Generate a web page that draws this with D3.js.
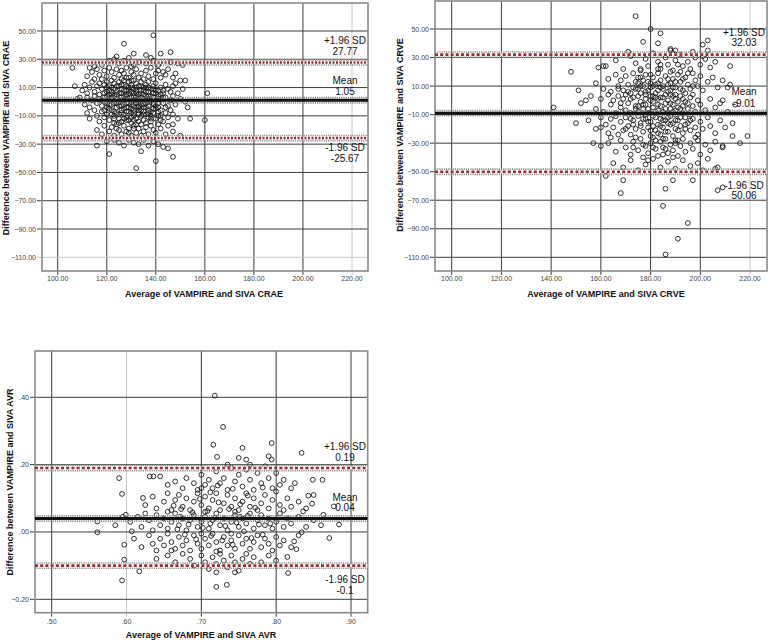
<!DOCTYPE html>
<html><head><meta charset="utf-8">
<script src="https://cdn.jsdelivr.net/npm/d3@7"></script>
<style>body{margin:0;background:#fff}svg{display:block;font-family:"Liberation Sans",Arial,sans-serif}</style>
</head><body><svg id="c" width="768" height="640"></svg>
<script>
// ---------- DATA ----------
const craeXTicks = [100,120,140,160,180,200,220];
const craeYTicks = [50,30,10,-10,-30,-50,-70,-90,-110];
const craeLines = [27.77, 1.05, -25.67];
const craeLineLabels = [["+1.96 SD","27.77"],["Mean","1.05"],["-1.96 SD","-25.67"]];
const craePoints = [
[118,26],[121,29],[123,30],[125,27],[127,29],[129,31],[131,26],[133,28],[136,27],[139,29],[141,26],[138,31],[115,25],[146,28],[149,27],
[112,18],[114,21],[115,16],[116,23],[117,19],[118,16],[119,22],[120,18],[121,24],[122,15],[122,21],[123,17],[124,23],[125,19],[126,16],[126,22],[127,20],[128,24],[129,17],[130,21],[131,15],[131,19],[132,23],[133,17],[134,20],[135,16],[136,22],[137,18],[138,24],[139,16],[140,20],[141,22],[142,17],[143,21],[144,19],[145,23],[147,17],[148,20],[113,24],[150,15],
[110,8],[111,12],[112,6],[113,10],[114,14],[115,7],[116,11],[117,5],[117,13],[118,9],[119,6],[119,12],[120,14],[121,8],[121,11],[122,5],[123,9],[123,13],[124,7],[125,11],[125,14],[126,6],[126,9],[127,12],[128,8],[128,5],[129,10],[129,14],[130,7],[130,12],[131,9],[132,6],[132,13],[133,11],[134,8],[134,14],[135,5],[135,10],[136,12],[137,7],[137,14],[138,9],[139,11],[139,6],[140,13],[141,8],[142,10],[143,6],[144,12],[145,9],[146,7],[147,11],[148,13],[149,6],[151,9],
[108,2],[111,-2],[112,3],[113,-4],[114,1],[115,4],[116,-1],[117,2],[118,-3],[119,0],[120,4],[120,-4],[121,1],[122,-2],[122,3],[123,-1],[124,2],[124,-4],[125,0],[126,3],[126,-3],[127,1],[127,-2],[128,4],[128,-1],[129,2],[129,-4],[130,0],[130,3],[131,-3],[131,1],[132,4],[132,-1],[133,2],[133,-4],[134,0],[134,3],[135,-2],[136,1],[136,4],[137,-3],[137,2],[138,0],[139,3],[139,-2],[140,1],[141,-4],[141,4],[142,2],[143,-1],[144,3],[145,-3],[146,1],[147,4],[148,-2],[150,2],[152,0],
[112,-8],[113,-12],[115,-6],[116,-10],[117,-14],[118,-7],[119,-11],[120,-9],[121,-13],[122,-6],[123,-10],[123,-15],[124,-8],[125,-12],[126,-6],[126,-14],[127,-9],[128,-11],[128,-7],[129,-13],[130,-8],[130,-15],[131,-10],[131,-6],[132,-12],[133,-8],[133,-14],[134,-10],[135,-7],[135,-13],[136,-9],[137,-11],[137,-6],[138,-14],[139,-8],[140,-12],[141,-7],[142,-10],[143,-14],[144,-8],[145,-11],[146,-6],[147,-9],[149,-12],[153,-4],
[116,-20],[118,-23],[119,-17],[121,-21],[122,-18],[123,-24],[124,-16],[125,-20],[126,-23],[127,-17],[128,-21],[129,-19],[130,-24],[131,-17],[132,-22],[133,-19],[134,-16],[134,-24],[135,-21],[136,-18],[137,-23],[138,-17],[139,-20],[140,-22],[141,-16],[142,-19],[144,-23],[145,-17],[147,-21],[147,-16],[150,-24],
[120,-28],[123,-27],[125,-29],[127,-31],[129,-27],[131,-29],[133,-30],[135,-27],[137,-31],[139,-28],[141,-30],[143,-32],[145,-33],[134,-35],
[139,47],[127,41],[131,34],[146,35],[142,34],[136,33],[124,32],[106,24],[107,11],[109,3],[161,6],[160,-13],[154,-12],[152,15],[151,26],[116,-31],[121,-37],[132,-47],[140,-42],[147,-39],
[119,3],[120,7],[121,-5],[122,10],[123,-7],[124,5],[125,-9],[126,1],[127,8],[127,-5],[128,2],[129,-7],[129,6],[130,-2],[130,10],[131,4],[131,-8],[132,1],[132,8],[133,-6],[133,5],[134,-2],[134,11],[135,2],[135,-9],[136,7],[136,-4],[137,0],[137,10],[138,-7],[138,4],[139,-1],[139,9],[140,-5],[140,6],[141,2],[141,-10],[142,5],[120,-1],[121,5],[122,-9],[124,11],[125,-3],[126,12],[128,-13],[130,-11],[132,-16],[133,-3],[134,6],[136,-15],[138,-10],[140,-3],[142,-6],[143,3],[131,-19],[129,-22],[127,-12],[124,-19],[128,17],[130,25],
[118,1],[119,-6],[120,10],[121,-2],[122,7],[123,-12],[123,4],[124,-1],[125,6],[125,-15],[126,-8],[127,4],[127,15],[128,-4],[128,11],[129,-1],[129,8],[130,-5],[130,15],[131,6],[131,-13],[132,-4],[132,10],[133,0],[133,-9],[134,-6],[135,8],[135,-4],[136,-1],[136,10],[137,4],[137,-8],[138,1],[138,-12],[139,-5],[140,8],[141,-1],[142,-13],[143,8],[144,-4]
];

const crveXTicks = [100,120,140,160,180,200,220];
const crveYTicks = [50,30,10,-10,-30,-50,-70,-90,-110];
const crveLines = [32.03, -9.01, -50.06];
const crveLineLabels = [["+1.96 SD","32.03"],["Mean","-9.01"],["-1.96 SD","50.06"]];
const crvePoints = [
[162,24],[166,28],[169,22],[172,31],[174,26],[176,21],[178,29],[179,24],[181,33],[183,27],[184,22],[186,30],[187,25],[189,21],[190,28],[192,32],[193,24],[195,27],[196,22],[198,30],[200,25],[202,29],[204,23],[206,27],[171,34],[188,35],[197,34],
[158,12],[161,8],[163,15],[164,6],[166,18],[167,10],[168,14],[169,7],[170,17],[171,11],[172,5],[173,19],[174,13],[175,8],[176,16],[177,10],[178,18],[178,6],[179,13],[180,9],[181,16],[182,11],[183,19],[183,7],[184,14],[185,10],[186,17],[187,6],[188,12],[189,15],[190,9],[191,18],[192,13],[193,7],[194,16],[195,11],[196,8],[197,19],[198,14],[199,10],[200,17],[201,7],[203,13],[205,16],[207,9],[209,14],[212,11],
[152,-2],[156,3],[158,-6],[160,1],[161,-8],[163,4],[164,-3],[165,0],[166,-9],[167,3],[168,-5],[169,1],[170,-7],[170,4],[171,-2],[172,-9],[173,2],[174,-4],[175,-8],[175,3],[176,-1],[177,-6],[178,4],[178,-3],[179,-9],[180,0],[181,-5],[181,3],[182,-8],[183,1],[184,-4],[184,-10],[185,2],[186,-6],[187,0],[187,-9],[188,4],[189,-3],[190,-7],[190,1],[191,-5],[192,3],[193,-9],[194,-1],[195,-6],[196,2],[197,-4],[198,-8],[199,0],[200,-3],[202,-7],[204,1],[206,-5],[208,-2],[211,-8],[214,-3],
[155,-14],[158,-20],[160,-12],[162,-17],[163,-23],[164,-13],[165,-19],[166,-11],[167,-24],[168,-15],[169,-21],[170,-12],[171,-18],[172,-24],[173,-14],[174,-20],[175,-11],[176,-16],[177,-22],[178,-13],[179,-19],[180,-25],[180,-15],[181,-11],[182,-21],[183,-17],[184,-13],[184,-24],[185,-19],[186,-14],[187,-22],[188,-11],[188,-17],[189,-25],[190,-20],[191,-14],[192,-18],[193,-23],[194,-12],[195,-16],[196,-21],[197,-13],[198,-19],[199,-24],[200,-15],[201,-20],[203,-12],[204,-18],[206,-23],[208,-14],[210,-19],[213,-16],
[163,-30],[166,-36],[168,-28],[170,-33],[172,-38],[173,-29],[175,-35],[176,-27],[177,-31],[179,-37],[180,-30],[181,-26],[182,-34],[183,-39],[184,-29],[185,-33],[186,-27],[187,-37],[188,-31],[189,-35],[190,-28],[191,-39],[192,-32],[193,-27],[194,-36],[196,-30],[197,-34],[199,-28],[200,-38],[202,-31],[204,-35],[206,-29],[209,-33],
[165,-44],[169,-47],[172,-42],[175,-49],[178,-45],[181,-41],[184,-47],[187,-43],[190,-48],[193,-42],[196,-46],[199,-44],[203,-41],[206,-48],[201,-49],
[174,59],[180,50],[184,47],[177,41],[183,40],[201,39],[203,42],[212,24],[216,-30],[219,-25],[209,-32],[213,-25],[211,9],[209,0],[148,20],[151,7],[154,0],[141,-5],[150,-16],[159,23],[161,24],[157,-30],[160,-32],[160,-19],[164,-26],[168,-65],[186,-62],[185,-74],[195,-86],[191,-97],[186,-108],[169,-56],[162,-53],[197,-56],[189,-56],[207,-47],[209,-61],[207,-63],[188,36],[190,35],[189,33],[203,35],[201,31],
[171,6],[172,-13],[173,9],[174,-6],[175,12],[176,-18],[176,5],[177,-3],[177,14],[178,-10],[179,7],[179,-15],[180,3],[180,-21],[181,10],[181,-1],[182,-12],[182,5],[183,-7],[183,12],[184,-18],[184,2],[185,-14],[185,8],[186,-2],[186,-22],[187,11],[187,-12],[188,-6],[188,7],[189,-16],[189,3],[190,-10],[190,13],[191,-1],[191,-21],[192,8],[192,-12],[193,-4],[193,15],[194,-17],[194,5],[174,-26],[178,-32],[182,-28],[186,-34],[190,-30],[176,22],[180,18],[184,25],[188,20],[170,-20],[168,-2],[167,8],[196,-10],[197,4],[198,-26],[195,19],[185,-38],[179,-42],
[172,1],[173,-17],[174,8],[175,-4],[176,10],[177,-13],[178,1],[179,-6],[180,12],[180,-9],[181,-18],[182,2],[183,-3],[183,-23],[184,9],[185,-8],[185,-27],[186,4],[187,-16],[187,15],[188,-2],[189,-8],[189,9],[190,-14],[190,4],[191,-28],[192,-6],[192,20],[193,1],[194,-20],[195,-2],[196,-14],[197,10],[173,-33],[177,-40],[181,-33],[189,-40],[175,16],[183,22],[191,25]
];

const avrXTicks = [0.5,0.6,0.7,0.8,0.9];
const avrYTicks = [0.4,0.2,0.0,-0.2];
const avrLines = [0.19, 0.04, -0.1];
const avrLineLabels = [["+1.96 SD","0.19"],["Mean","0.04"],["-1.96 SD","-0.1"]];
const avrPoints = [
[0.645,0.165],[0.655,0.14],[0.665,0.15],[0.675,0.13],[0.68,0.16],[0.69,0.145],[0.695,0.125],[0.70,0.17],[0.705,0.14],[0.71,0.155],[0.715,0.13],[0.72,0.18],[0.725,0.145],[0.73,0.16],[0.735,0.125],[0.74,0.19],[0.745,0.15],[0.75,0.17],[0.755,0.135],[0.76,0.185],[0.765,0.155],[0.77,0.125],[0.775,0.175],[0.78,0.145],[0.785,0.195],[0.79,0.16],[0.795,0.13],[0.80,0.175],[0.805,0.14],[0.81,0.155],[0.82,0.13],[0.825,0.145],[0.735,0.20],[0.765,0.20],[0.70,0.13],
[0.625,0.08],[0.635,0.105],[0.64,0.07],[0.65,0.09],[0.655,0.115],[0.66,0.065],[0.665,0.095],[0.67,0.11],[0.675,0.075],[0.68,0.10],[0.685,0.065],[0.69,0.09],[0.695,0.115],[0.70,0.08],[0.705,0.105],[0.71,0.07],[0.715,0.095],[0.72,0.115],[0.725,0.065],[0.73,0.085],[0.735,0.11],[0.74,0.075],[0.745,0.10],[0.75,0.065],[0.755,0.09],[0.76,0.115],[0.765,0.075],[0.77,0.10],[0.775,0.065],[0.78,0.085],[0.785,0.11],[0.79,0.07],[0.795,0.095],[0.80,0.12],[0.805,0.08],[0.81,0.065],[0.815,0.10],[0.82,0.075],[0.83,0.09],[0.84,0.07],[0.85,0.11],[0.655,0.06],[0.705,0.06],[0.745,0.06],
[0.605,0.03],[0.615,0.045],[0.62,0.015],[0.63,0.035],[0.635,0.005],[0.64,0.05],[0.645,0.02],[0.65,0.04],[0.655,0.01],[0.66,0.03],[0.665,0.055],[0.67,0.02],[0.675,0.04],[0.68,0.005],[0.685,0.035],[0.69,0.05],[0.695,0.015],[0.70,0.03],[0.705,0.045],[0.71,0.01],[0.715,0.035],[0.72,0.055],[0.725,0.02],[0.73,0.04],[0.735,0.005],[0.74,0.03],[0.745,0.05],[0.75,0.015],[0.755,0.04],[0.76,0.025],[0.765,0.055],[0.77,0.01],[0.775,0.035],[0.78,0.05],[0.785,0.02],[0.79,0.04],[0.795,0.01],[0.80,0.03],[0.805,0.055],[0.81,0.015],[0.815,0.04],[0.82,0.025],[0.83,0.045],[0.84,0.015],[0.85,0.035],[0.86,0.02],[0.585,0.02],[0.595,0.045],[0.625,0.055],[0.672,0.045],[0.712,0.025],[0.752,0.045],[0.792,0.025],
[0.61,-0.02],[0.62,-0.045],[0.63,-0.01],[0.635,-0.035],[0.64,-0.055],[0.645,-0.02],[0.65,-0.04],[0.655,-0.005],[0.66,-0.03],[0.665,-0.05],[0.67,-0.015],[0.675,-0.04],[0.68,-0.025],[0.685,-0.055],[0.69,-0.01],[0.695,-0.035],[0.70,-0.05],[0.705,-0.02],[0.71,-0.04],[0.715,-0.005],[0.72,-0.03],[0.725,-0.055],[0.73,-0.015],[0.735,-0.04],[0.74,-0.025],[0.745,-0.05],[0.75,-0.01],[0.755,-0.035],[0.76,-0.02],[0.765,-0.05],[0.77,-0.03],[0.775,-0.01],[0.78,-0.045],[0.785,-0.02],[0.79,-0.035],[0.795,-0.055],[0.80,-0.015],[0.805,-0.04],[0.81,-0.025],[0.82,-0.045],[0.83,-0.01],[0.70,-0.005],[0.74,-0.005],[0.66,-0.055],[0.72,-0.058],
[0.64,-0.08],[0.655,-0.07],[0.665,-0.09],[0.675,-0.065],[0.685,-0.08],[0.69,-0.10],[0.70,-0.07],[0.705,-0.09],[0.71,-0.11],[0.715,-0.075],[0.72,-0.095],[0.725,-0.065],[0.73,-0.085],[0.735,-0.105],[0.74,-0.07],[0.745,-0.09],[0.75,-0.115],[0.755,-0.08],[0.76,-0.065],[0.765,-0.095],[0.77,-0.075],[0.78,-0.09],[0.79,-0.07],[0.80,-0.085],[0.745,-0.12],[0.72,-0.12],
[0.718,0.405],[0.729,0.312],[0.716,0.259],[0.721,0.223],[0.590,0.160],[0.594,0.113],[0.561,0.031],[0.561,-0.001],[0.597,-0.038],[0.597,-0.082],[0.594,-0.144],[0.617,-0.117],[0.720,-0.163],[0.734,-0.157],[0.622,0.101],[0.631,0.165],[0.636,0.165],[0.599,0.051],[0.607,0.002],[0.794,0.264],[0.834,0.235],[0.794,0.215],[0.862,0.155],[0.849,0.155],[0.843,0.108],[0.848,0.084],[0.877,0.076],[0.884,0.022],[0.871,-0.018],[0.834,-0.001],[0.827,-0.051],[0.824,-0.028],[0.816,-0.122],[0.815,-0.074],[0.863,0.051],[0.836,0.061],[0.75,0.22],[0.755,0.25],[0.79,0.225],[0.76,0.215],
[0.702,0.012],[0.708,0.062],[0.713,-0.012],[0.718,0.042],[0.723,0.088],[0.728,-0.025],[0.732,0.018],[0.737,0.068],[0.742,-0.038],[0.747,0.028],[0.752,0.082],[0.757,0.002],[0.762,0.048],[0.767,-0.018],[0.772,0.072],[0.777,0.022],[0.782,-0.008],[0.698,0.098],[0.693,-0.022],[0.688,0.058],[0.683,0.022],[0.678,-0.008],[0.673,0.068],[0.668,0.008],[0.663,0.078],[0.742,0.128],[0.722,0.138],[0.762,0.108],[0.782,0.132],[0.712,0.118]
];

// ---------- LAYOUT ----------
const svg = d3.select("#c");
const fmt2 = d3.format(".2f");
const fmtDot = v => d3.format(".2f")(v).replace(/^(-?)0\./, "$1.");

const panels = [
  {id:"p1", points:craePoints, xTicks:craeXTicks, yTicks:craeYTicks, lines:craeLines, labels:craeLineLabels,
   xr:[57.7,352], yr:[31,257.3], frame:[42,3,368,271], xfmt:fmt2, yfmt:fmt2,
   lightX:[220], lightY:[-110], labelX:345, labelY:[[43.5,55],[84,94.5],[150.5,161.5]],
   yTitle:"Difference between VAMPIRE and SIVA CRAE", yTitlePos:[8.5,138],
   xTitle:"Average of VAMPIRE and SIVA CRAE", xTitlePos:[204,296.5], xLabY:281, band:"x"},
  {id:"p2", points:crvePoints, xTicks:crveXTicks, yTicks:crveYTicks, lines:crveLines, labels:crveLineLabels,
   xr:[451.7,750], yr:[29,257.3], frame:[435,1,767,271], xfmt:fmt2, yfmt:fmt2,
   lightX:[220], lightY:[], labelX:744, labelY:[[36,46],[95,106.5],[188.5,198.5]],
   yTitle:"Difference between VAMPIRE and SIVA CRVE", yTitlePos:[402.5,135],
   xTitle:"Average of VAMPIRE and SIVA CRVE", xTitlePos:[606,296.5], xLabY:281, band:"d"},
  {id:"p3", points:avrPoints, xTicks:avrXTicks, yTicks:avrYTicks, lines:avrLines, labels:avrLineLabels,
   xr:[51.7,351], yr:[397.3,599.3], frame:[35,351,367.7,612.7], xfmt:fmtDot, yfmt:fmtDot,
   lightX:[0.6], lightY:[], labelX:345, labelY:[[450,461],[500.5,511],[582.5,593.5]],
   yTitle:"Difference between VAMPIRE and SIVA AVR", yTitlePos:[13,482],
   xTitle:"Average of VAMPIRE and SIVA AVR", xTitlePos:[201,637.5], xLabY:623.5, band:"d"}
];

panels.forEach(p => {
  const x = d3.scaleLinear().domain([p.xTicks[0], p.xTicks[p.xTicks.length-1]]).range(p.xr);
  const y = d3.scaleLinear().domain([p.yTicks[0], p.yTicks[p.yTicks.length-1]]).range(p.yr);
  const [fx0, fy0, fx1, fy1] = p.frame;
  const g = svg.append("g");
  svg.append("clipPath").attr("id", "clip-"+p.id)
    .append("rect").attr("x", fx0).attr("y", fy0).attr("width", fx1-fx0).attr("height", fy1-fy0);

  const isLightX = v => p.lightX.some(l => Math.abs(l - v) < 1e-9);
  const isLightY = v => p.lightY.some(l => Math.abs(l - v) < 1e-9);

  // grid
  g.selectAll(".gx").data(p.xTicks).join("line")
    .attr("x1", d => x(d)).attr("x2", d => x(d)).attr("y1", fy0).attr("y2", fy1 + 4)
    .attr("stroke", d => isLightX(d) ? "#c8c8c8" : "#3c3c3c").attr("stroke-width", 1);
  g.selectAll(".gy").data(p.yTicks).join("line")
    .attr("x1", fx0 - 5).attr("x2", fx1).attr("y1", d => y(d)).attr("y2", d => y(d))
    .attr("stroke", d => isLightY(d) ? "#c8c8c8" : "#3c3c3c").attr("stroke-width", 1);

  // frame
  g.append("rect").attr("x", fx0).attr("y", fy0).attr("width", fx1-fx0).attr("height", fy1-fy0)
    .attr("fill", "none").attr("stroke", "#8a8a8a").attr("stroke-width", 1.6);

  // tick labels
  g.selectAll(".tx").data(p.xTicks).join("text")
    .attr("x", d => x(d)).attr("y", p.xLabY).attr("text-anchor", "middle")
    .attr("font-size", 7).attr("fill", "#444").text(d => p.xfmt(d));
  g.selectAll(".ty").data(p.yTicks).join("text")
    .attr("x", fx0 - 6).attr("y", d => y(d) + 2.5).attr("text-anchor", "end")
    .attr("font-size", 7).attr("fill", "#444").text(d => p.yfmt(d));

  const inner = g.append("g").attr("clip-path", "url(#clip-"+p.id+")");

  // points
  inner.selectAll("circle").data(p.points).join("circle")
    .attr("cx", d => x(d[0])).attr("cy", d => y(d[1])).attr("r", 2.4)
    .attr("fill", "none").attr("stroke", "#1a1a1a").attr("stroke-width", 0.9);

  // reference lines
  p.lines.forEach((v, i) => {
    const yy = y(v);
    [-2.6, 2.6].forEach(off => {
      inner.append("line").attr("x1", fx0).attr("x2", fx1).attr("y1", yy+off).attr("y2", yy+off)
        .attr("stroke", "#8c8c8c").attr("stroke-width", 1.6).attr("stroke-dasharray", "1.2,1");
    });
    if (i === 1) {
      inner.append("line").attr("x1", fx0).attr("x2", fx1).attr("y1", yy).attr("y2", yy)
        .attr("stroke", "#111").attr("stroke-width", 3);
    } else {
      inner.append("line").attr("x1", fx0).attr("x2", fx1).attr("y1", yy).attr("y2", yy)
        .attr("stroke", "#ffffff").attr("stroke-width", 2.6);
      inner.append("line").attr("x1", fx0).attr("x2", fx1).attr("y1", yy).attr("y2", yy)
        .attr("stroke", "#9a2b2e").attr("stroke-width", 2.6)
        .attr("stroke-dasharray", p.band === "x" ? "2,1.5" : "3,2.2");
    }
  });

  // line labels
  p.labels.forEach((pair, i) => {
    pair.forEach((t, j) => {
      g.append("text").attr("x", p.labelX).attr("y", p.labelY[i][j])
        .attr("text-anchor", "middle").attr("font-size", 10).attr("fill", "#111").text(t);
    });
  });

  // axis titles
  g.append("text").attr("transform", `translate(${p.yTitlePos[0]},${p.yTitlePos[1]}) rotate(-90)`)
    .attr("text-anchor", "middle").attr("font-size", 9).attr("font-weight", "bold").attr("fill", "#111")
    .text(p.yTitle);
  g.append("text").attr("x", p.xTitlePos[0]).attr("y", p.xTitlePos[1])
    .attr("text-anchor", "middle").attr("font-size", 9).attr("font-weight", "bold").attr("fill", "#111")
    .text(p.xTitle);
});
</script>
</body></html>
